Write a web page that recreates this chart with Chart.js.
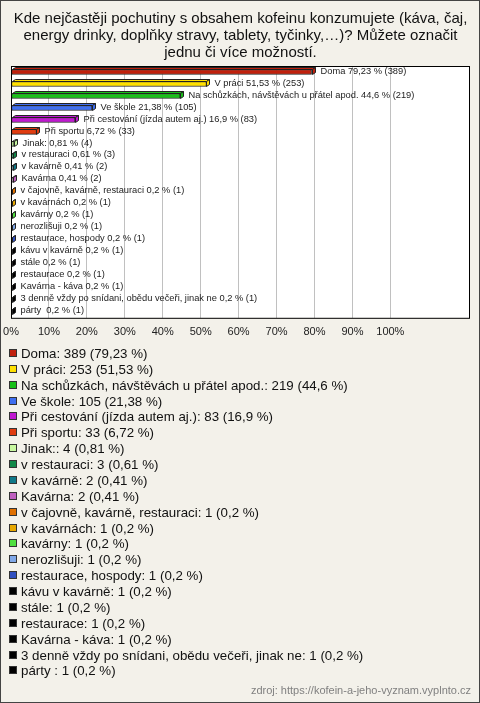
<!DOCTYPE html>
<html>
<head>
<meta charset="utf-8">
<script src="https://cdn.jsdelivr.net/npm/chart.js@4"></script>
<style>
  html, body { margin: 0; padding: 0; background: #f3f1ea; }
  canvas { display: block; }
</style>
</head>
<body>
<canvas id="chart" width="480" height="703"></canvas>
<script>
// data
const titleLines = [
  'Kde nejčastěji pochutiny s obsahem kofeinu konzumujete (káva, čaj,',
  'energy drinky, doplňky stravy, tablety, tyčinky,…)? Můžete označit',
  'jednu či více možností.'
];
const categories = [
  'Doma', 'V práci', 'Na schůzkách, návštěvách u přátel apod.', 'Ve škole',
  'Při cestování (jízda autem aj.)', 'Při sportu', 'Jinak:', 'v restauraci',
  'v kavárně', 'Kavárna', 'v čajovně, kavárně, restauraci', 'v kavárnách',
  'kavárny', 'nerozlišuji', 'restaurace, hospody', 'kávu v kavárně', 'stále',
  'restaurace', 'Kavárna - káva', '3 denně vždy po snídani, obědu večeři, jinak ne', 'párty '
];
const counts = [389, 253, 219, 105, 83, 33, 4, 3, 2, 2, 1, 1, 1, 1, 1, 1, 1, 1, 1, 1, 1];
const percents = [79.23, 51.53, 44.6, 21.38, 16.9, 6.72, 0.81, 0.61, 0.41, 0.41,
  0.2, 0.2, 0.2, 0.2, 0.2, 0.2, 0.2, 0.2, 0.2, 0.2, 0.2];
const colors = [
  '#c0200c', '#ffe000', '#18c018', '#3f6ff0', '#c018d0', '#e03c10', '#c8f8a0',
  '#108848', '#107888', '#c060c0', '#e07000', '#e8a800', '#50e040', '#80a8e8',
  '#3050c0', '#000000', '#000000', '#000000', '#000000', '#000000', '#000000'
];
const xMax = 121;
const sourceText = 'zdroj: https://kofein-a-jeho-vyznam.vyplnto.cz';

const FONT = 'Arial, "Liberation Sans", sans-serif';
const fmt = v => String(v).replace('.', ',');
const DX = 3, DY = 2;

// background, plot box, legend list and source line
const frame = {
  id: 'frame',
  beforeDraw(chart) {
    const { ctx, chartArea: a } = chart;
    ctx.save();
    ctx.fillStyle = '#f3f1ea';
    ctx.fillRect(0, 0, chart.width, chart.height);
    ctx.fillStyle = '#ffffff';
    ctx.fillRect(a.left, a.top, a.right - a.left, a.bottom - a.top);
    ctx.restore();
  },
  afterDraw(chart) {
    const { ctx, chartArea: a } = chart;
    ctx.save();
    ctx.strokeStyle = '#000';
    ctx.lineWidth = 1;
    ctx.strokeRect(a.left + 0.5, a.top + 0.5, a.right - a.left - 1, a.bottom - a.top);
    ctx.strokeStyle = '#444';
    ctx.strokeRect(0.5, 0.5, chart.width - 1, chart.height - 1);

    // legend
    ctx.font = '13.3px ' + FONT;
    ctx.textBaseline = 'middle';
    categories.forEach((c, i) => {
      const y = Math.round(353 + i * 15.87);
      ctx.fillStyle = colors[i];
      ctx.fillRect(9, y - 4, 8, 8);
      ctx.strokeStyle = '#333';
      ctx.strokeRect(9.5, y - 3.5, 7, 7);
      ctx.fillStyle = '#111';
      ctx.fillText(`${c}: ${counts[i]} (${fmt(percents[i])} %)`, 21, y + 1);
    });

    ctx.font = '11px ' + FONT;
    ctx.fillStyle = '#808080';
    ctx.textAlign = 'right';
    ctx.fillText(sourceText, 471, 691);
    ctx.restore();
  }
};

// 3D faces on the bars plus the value labels
const bars3d = {
  id: 'bars3d',
  afterDatasetsDraw(chart) {
    const { ctx } = chart;
    const meta = chart.getDatasetMeta(0);
    ctx.save();
    ctx.lineWidth = 1;
    meta.data.forEach((el, i) => {
      const x0 = Math.round(el.base) + 0.5;
      const x1 = Math.round(el.x) + 0.5;
      const yt = Math.round(el.y - el.height / 2) + 0.5;
      const yb = Math.round(el.y + el.height / 2) + 0.5;
      ctx.strokeStyle = '#222';
      ctx.fillStyle = colors[i];
      // top face
      ctx.beginPath();
      ctx.moveTo(x0, yt);
      ctx.lineTo(x0 + DX, yt - DY);
      ctx.lineTo(x1 + DX, yt - DY);
      ctx.lineTo(x1, yt);
      ctx.closePath();
      ctx.fill();
      ctx.stroke();
      // side face
      ctx.beginPath();
      ctx.moveTo(x1, yt);
      ctx.lineTo(x1 + DX, yt - DY);
      ctx.lineTo(x1 + DX, yb - DY);
      ctx.lineTo(x1, yb);
      ctx.closePath();
      ctx.fill();
      ctx.stroke();

      ctx.font = '9.3px ' + FONT;
      ctx.fillStyle = '#222';
      ctx.textBaseline = 'middle';
      ctx.fillText(`${categories[i]} ${fmt(percents[i])} % (${counts[i]})`, x1 + DX + 5, el.y - 1);
    });
    ctx.restore();
  }
};

new Chart(document.getElementById('chart'), {
  type: 'bar',
  data: {
    labels: categories,
    datasets: [{
      data: percents,
      backgroundColor: colors,
      borderColor: '#222',
      borderWidth: 1,
      borderSkipped: false,
      barThickness: 5
    }]
  },
  options: {
    indexAxis: 'y',
    responsive: false,
    devicePixelRatio: 1,
    animation: false,
    layout: { padding: { left: 11, right: 10, top: 0, bottom: 356 } },
    plugins: {
      legend: { display: false },
      tooltip: { enabled: false },
      title: {
        display: true,
        text: titleLines,
        color: '#111',
        font: { family: FONT, size: 15, weight: 'normal', lineHeight: 17 / 15 },
        padding: { top: 10, bottom: 5 }
      }
    },
    scales: {
      x: {
        min: 0,
        max: xMax,
        position: 'bottom',
        border: { display: false },
        afterFit: s => { s.paddingLeft = 0; s.paddingRight = 0; },
        grid: {
          drawTicks: false,
          color: c => (c.tick && c.tick.value > 0 && c.tick.value <= 100) ? '#c0c0c0' : 'rgba(0,0,0,0)'
        },
        ticks: {
          stepSize: 10,
          autoSkip: false,
          maxRotation: 0,
          padding: 8,
          color: '#222',
          font: { family: FONT, size: 11 },
          callback: v => v <= 100 ? v + '%' : ''
        }
      },
      y: { display: false }
    }
  },
  plugins: [frame, bars3d]
});
</script>
</body>
</html>
